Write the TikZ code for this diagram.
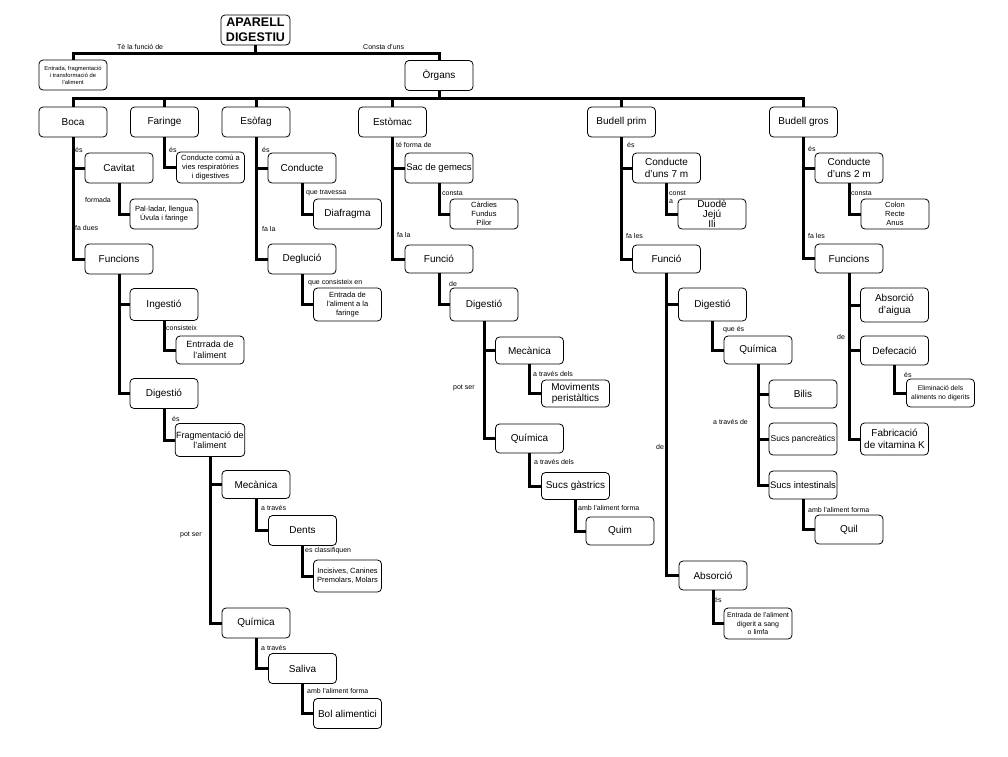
\documentclass[tikz,border=0pt]{standalone}
\usepackage{fontspec}
\setmainfont{Liberation Sans}
\begin{document}
\begin{tikzpicture}[x=1pt,y=-1pt,
  bx/.style={draw, rounded corners=4pt, line width=0.8pt, fill=white, minimum width=68pt, minimum height=30pt, inner sep=1pt, align=center, font=\fontsize{10}{11.5}\selectfont},
  sm/.style={font=\fontsize{7.5}{9}\selectfont},
  md/.style={font=\fontsize{9}{10.5}\selectfont},
  lbl/.style={anchor=west, inner sep=0pt, font=\fontsize{7}{7.5}\selectfont},
  ln/.style={line width=3pt}]
\useasboundingbox (0,0) rectangle (1008,756);

% ---------- boxes ----------
\node[bx, minimum width=69pt, font=\bfseries\fontsize{12.5}{14.5}\selectfont, inner sep=0pt] (ap) at (255.5,30) {APARELL\\DIGESTIU};
\node[bx, font=\fontsize{5.8}{7}\selectfont] (ent) at (73,75) {Entrada, fragmentació\\i transformació de\\l'aliment};
\node[bx] (org) at (439,75.5) {Òrgans};

\node[bx] (boca) at (73,122) {Boca};
\node[bx] (far) at (164.5,122) {Faringe};
\node[bx] (eso) at (256,122) {Esòfag};
\node[bx] (est) at (392.5,122) {Estòmac};
\node[bx] (bp) at (621.5,122) {Budell prim};
\node[bx] (bg) at (803.5,122) {Budell gros};

% Boca
\node[bx] (cav) at (119,168) {Cavitat};
\node[bx, sm] (pal) at (164,214) {Pal·ladar, llengua\\Úvula i faringe};
\node[bx] (fun1) at (119,259) {Funcions};
\node[bx, minimum height=32pt] (ing) at (164,304.5) {Ingestió};
\node[bx, md, minimum height=28pt] (entr) at (210,350) {Entrrada de\\l'aliment};
\node[bx] (dig1) at (164,393.5) {Digestió};
\node[bx, md, minimum height=33pt] (frag) at (210,440) {Fragmentació de\\l'aliment};
\node[bx, minimum height=28pt] (mec1) at (256,484.5) {Mecànica};
\node[bx] (dents) at (302.5,530.5) {Dents};
\node[bx, sm, minimum height=32pt] (inc) at (347.5,576) {Incisives, Canines\\Premolars, Molars};
\node[bx] (qui1) at (256,623) {Química};
\node[bx] (sal) at (302.5,668.5) {Saliva};
\node[bx] (bol) at (347.5,713.5) {Bol alimentici};

% Faringe
\node[bx, sm, minimum height=31pt] (cc) at (210.5,167.5) {Conducte comú a\\vies respiratòries\\i digestives};

% Esofag
\node[bx] (cond) at (302,168) {Conducte};
\node[bx] (dia) at (347.5,214) {Diafragma};
\node[bx] (deg) at (302,259) {Deglució};
\node[bx, sm, minimum height=33pt] (entf) at (347.5,304.5) {Entrada de\\l'aliment a la\\faringe};

% Estomac
\node[bx, font=\fontsize{9.5}{11}\selectfont] (sac) at (439,168) {Sac de gemecs};
\node[bx, sm] (car) at (484,214) {Càrdies\\Fundus\\Pílor};
\node[bx, minimum height=28pt] (fun2) at (439,259) {Funció};
\node[bx, minimum height=33pt] (dig2) at (484,304.5) {Digestió};
\node[bx, minimum height=27pt] (mec2) at (529.5,350.5) {Mecànica};
\node[bx, minimum height=27pt] (mov) at (575.5,393.5) {Moviments\\peristàltics};
\node[bx, minimum height=29pt] (qui2) at (529.5,438.5) {Química};
\node[bx, minimum height=27pt] (sucg) at (575.5,486) {Sucs gàstrics};
\node[bx, minimum height=28pt] (quim) at (620,531) {Quim};

% Budell prim
\node[bx] (c7) at (666.5,168) {Conducte\\d'uns 7 m};
\node[bx, inner sep=0pt, font=\fontsize{10}{10}\selectfont] (duo) at (712,214) {Duodè\\Jejú\\Ili};
\node[bx, minimum height=28pt] (fun3) at (666.5,259) {Funció};
\node[bx, minimum height=33pt] (dig3) at (712.5,304.5) {Digestió};
\node[bx, minimum height=28pt] (qui3) at (758,350) {Química};
\node[bx, minimum height=28pt] (bil) at (803,394) {Bilis};
\node[bx, font=\fontsize{8.5}{10}\selectfont, minimum height=32pt] (sp) at (803,439) {Sucs pancreàtics};
\node[bx, font=\fontsize{9.5}{11}\selectfont, minimum height=28pt] (si) at (803,485) {Sucs intestinals};
\node[bx, minimum height=29pt] (quil) at (849,529.5) {Quil};
\node[bx, minimum height=29pt] (abs) at (713,575.5) {Absorció};
\node[bx, font=\fontsize{7}{8.5}\selectfont, minimum height=31pt] (ents) at (758,623.5) {Entrada de l'aliment\\digerit a sang\\o limfa};

% Budell gros
\node[bx] (c2) at (849,168) {Conducte\\d'uns 2 m};
\node[bx, sm] (col) at (895,214) {Colon\\Recte\\Anus};
\node[bx, minimum height=29pt] (fun4) at (849,258.5) {Funcions};
\node[bx, minimum height=34pt] (absa) at (894.5,305) {Absorció\\d'aigua};
\node[bx, minimum height=29pt] (def) at (894.5,350.5) {Defecació};
\node[bx, font=\fontsize{6.8}{8.5}\selectfont, minimum height=28pt] (eli) at (940.5,393) {Eliminació dels\\aliments no digerits};
\node[bx, minimum height=32pt] (fab) at (894.5,439) {Fabricació\\de vitamina K};

% ---------- connectors ----------
\coordinate (bar1) at (255.5,53);
\coordinate (bar2) at (438,98);
\draw[ln] (ap.south) -- (ap.south |- bar1);
\draw[ln] (ent.north) -- (ent.north |- bar1) -- (org.north |- bar1) -- (org.north);
\draw[ln] (org.south) -- (org.south |- bar2);
\draw[ln] (boca.north) -- (boca.north |- bar2) -- (bg.north |- bar2) -- (bg.north);
\foreach \n in {far,eso,est,bp} \draw[ln] (\n.north) -- (\n.north |- bar2);

\foreach \p/\c in {boca/cav, boca/fun1, cav/pal, fun1/ing, fun1/dig1, ing/entr, dig1/frag,
  frag/mec1, frag/qui1, mec1/dents, dents/inc, qui1/sal, sal/bol,
  far/cc,
  eso/cond, eso/deg, cond/dia, deg/entf,
  est/sac, est/fun2, sac/car, fun2/dig2, dig2/mec2, dig2/qui2, mec2/mov, qui2/sucg, sucg/quim,
  bp/c7, bp/fun3, c7/duo, fun3/dig3, fun3/abs, dig3/qui3, qui3/bil, qui3/sp, qui3/si, si/quil, abs/ents,
  bg/c2, bg/fun4, c2/col, fun4/absa, fun4/def, fun4/fab, def/eli}
  \draw[ln] (\p.south) |- (\c.west);

% ---------- labels ----------
\node[lbl] (l1) at (117,47) {Tè la funció de};
\node[lbl] (l2) at (363,47) {Consta d'uns};
\node[lbl] (l3) at (75,150) {és};
\node[lbl] (l4) at (85,200) {formada};
\node[lbl] (l5) at (75,228) {fa dues};
\node[lbl] (l6) at (169,150) {és};
\node[lbl] (l7) at (262,150) {és};
\node[lbl] (l8) at (306,193) {que travessa};
\node[lbl] (l9) at (262,229) {fa la};
\node[lbl] (l10) at (166,328) {consisteix};
\node[lbl] (l11) at (172,419) {és};
\node[lbl] (l12) at (180,535) {pot ser};
\node[lbl] (l13) at (261,508) {a través};
\node[lbl] (l14) at (305,551) {es classifiquen};
\node[lbl] (l15) at (261,648) {a través};
\node[lbl] (l16) at (307,691) {amb l'aliment forma};
\node[lbl] (l17) at (308,283) {que consisteix en};
\node[lbl] (l18) at (396,145) {té forma de};
\node[lbl] (l19) at (442,193) {consta};
\node[lbl] (l20) at (397,235) {fa la};
\node[lbl] (l21) at (449,284) {de};
\node[lbl] (l22) at (453,388) {pot ser};
\node[lbl] (l23) at (533,374) {a través dels};
\node[lbl] (l24) at (534,462) {a través dels};
\node[lbl] (l25) at (578,508) {amb l'aliment forma};
\node[lbl] (l26) at (627,145) {és};
\node[lbl] (l27) at (669,193) {const};
\node[lbl] (l28) at (669,202) {a};
\node[lbl] (l29) at (626,236) {fa les};
\node[lbl] (l30) at (723,330) {que és};
\node[lbl] (l31) at (713,422) {a través de};
\node[lbl] (l32) at (656,447) {de};
\node[lbl] (l33) at (808,510) {amb l'aliment forma};
\node[lbl] (l34) at (714,600) {és};
\node[lbl] (l35) at (808,149) {és};
\node[lbl] (l36) at (851,193) {consta};
\node[lbl] (l37) at (808,236) {fa les};
\node[lbl] (l38) at (837,337) {de};
\node[lbl] (l39) at (904,375) {és};
\end{tikzpicture}
\end{document}
